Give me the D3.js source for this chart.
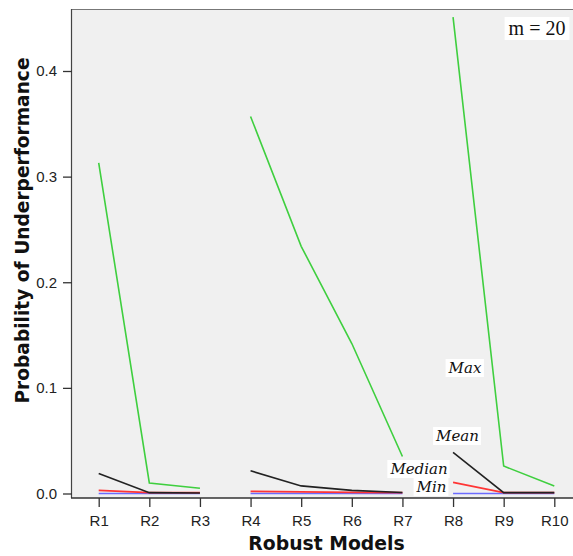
<!DOCTYPE html>
<html>
<head>
<meta charset="utf-8">
<script src="https://cdn.jsdelivr.net/npm/d3@7"></script>
<style>
html,body{margin:0;padding:0;background:#fff;}
svg{display:block;}
</style>
</head>
<body>
<script>
const categories = ["R1","R2","R3","R4","R5","R6","R7","R8","R9","R10"];
const groups = [1,1,1,2,2,2,2,3,3,3];
const maxVals    = [0.313,0.010,0.005, 0.357,0.234,0.142,0.035, 0.451,0.026,0.007];
const meanVals   = [0.019,0.0008,0.0005, 0.0215,0.0072,0.003,0.001, 0.039,0.0008,0.0008];
const medianVals = [0.003,0.0008,0.0008, 0.002,0.0015,0.001,0.0008, 0.0105,0.0008,0.0008];
const minVals    = [0,0,0, 0,0,0,0, 0,0,0];
const yTicks = [0.0,0.1,0.2,0.3,0.4];
const seriesNames = ["Min","Median","Mean","Max"];
const seriesColors = ["#6b6bff","#ff3535","#222222","#3fcf3f"];
const seriesData = [minVals, medianVals, meanVals, maxVals];

const W = 573, H = 556;
const mLeft = 72, mRight = 573, mTop = 9, mBottom = 498;

const svg = d3.select("body").append("svg").attr("width", W).attr("height", H);

const x = d3.scalePoint().domain(categories).range([98.7, 554.3]);
const y = d3.scaleLinear().domain([0, 0.4]).range([493.5, 71]);

svg.append("rect").attr("x", mLeft).attr("y", mTop).attr("width", mRight-mLeft).attr("height", mBottom-mTop)
  .attr("fill", "#f0f0f0");
svg.append("line").attr("x1", mLeft).attr("x2", mRight).attr("y1", mTop+0.5).attr("y2", mTop+0.5)
  .attr("stroke", "#777").attr("stroke-width", 1.2);
svg.append("line").attr("x1", mLeft-0.5).attr("x2", mLeft-0.5).attr("y1", mTop).attr("y2", mBottom)
  .attr("stroke", "#444").attr("stroke-width", 1.2);

const tickFont = "Liberation Sans, Arial, sans-serif";
const yAxis = d3.axisLeft(y).tickValues(yTicks).tickFormat(d3.format(".1f")).tickSize(9).tickSizeOuter(0);
const gy = svg.append("g").attr("transform", `translate(${mLeft},0)`).call(yAxis);
gy.select(".domain").remove();
gy.selectAll("line").attr("stroke", "#333").attr("stroke-width", 1.3);
gy.selectAll("text").attr("font-family", tickFont).attr("font-size", 15).attr("fill", "#222").attr("x", -15);

const xAxis = d3.axisBottom(x).tickSize(9).tickSizeOuter(0);
const gx = svg.append("g").attr("transform", `translate(0,${mBottom})`).call(xAxis);
gx.select(".domain").remove();
gx.selectAll("line").attr("stroke", "#333").attr("stroke-width", 1.3);
gx.selectAll("text").attr("font-family", tickFont).attr("font-size", 15).attr("fill", "#222").attr("y", 17);
svg.append("line").attr("x1", mLeft-1).attr("x2", mRight).attr("y1", mBottom).attr("y2", mBottom)
  .attr("stroke", "#333").attr("stroke-width", 1.5);

const line = d3.line().x(d => x(d.c)).y(d => y(d.v));
const groupIds = Array.from(new Set(groups));
seriesData.forEach((vals, si) => {
  groupIds.forEach(g => {
    const pts = categories.map((c, i) => ({c, v: vals[i], g: groups[i]})).filter(d => d.g === g);
    svg.append("path").datum(pts).attr("d", line).attr("fill", "none")
      .attr("stroke", seriesColors[si]).attr("stroke-width", si === 1 ? 1.8 : 1.6);
  });
});

function labelBox(text, cx, cy, fs) {
  const g = svg.append("g");
  const t = g.append("text").attr("x", cx).attr("y", cy).attr("text-anchor", "middle")
    .attr("dominant-baseline", "central")
    .attr("font-family", "DejaVu Serif, serif").attr("font-style", "italic").attr("font-size", fs)
    .attr("fill", "#111").text(text);
  const b = t.node().getBBox();
  g.insert("rect", "text").attr("x", b.x-2).attr("y", b.y).attr("width", b.width+4).attr("height", b.height).attr("fill", "#fff");
}
labelBox("Max", 465, 368, 15);
labelBox("Mean", 457.5, 436, 15);
labelBox("Median", 419, 469, 15);
labelBox("Min", 431.5, 487, 15);

(function(){
  const g = svg.append("g");
  const t = g.append("text").attr("x", 537).attr("y", 28).attr("text-anchor", "middle")
    .attr("dominant-baseline", "central")
    .attr("font-family", "Liberation Serif, Times New Roman, serif").attr("font-size", 20)
    .attr("fill", "#111").text("m = 20");
  const b = t.node().getBBox();
  g.insert("rect", "text").attr("x", b.x-4).attr("y", b.y).attr("width", b.width+8).attr("height", b.height+1).attr("fill", "#fff");
})();

const titleFont = "DejaVu Sans, Verdana, sans-serif";
svg.append("text").attr("transform", `translate(29,230.5) rotate(-90)`)
  .attr("text-anchor", "middle").attr("font-family", titleFont)
  .attr("font-weight", "bold").attr("font-size", 18.6).attr("fill", "#111")
  .text("Probability of Underperformance");
svg.append("text").attr("x", 326.5).attr("y", 550).attr("text-anchor", "middle")
  .attr("font-family", titleFont)
  .attr("font-weight", "bold").attr("font-size", 18.8).attr("fill", "#111")
  .text("Robust Models");
</script>
</body>
</html>
